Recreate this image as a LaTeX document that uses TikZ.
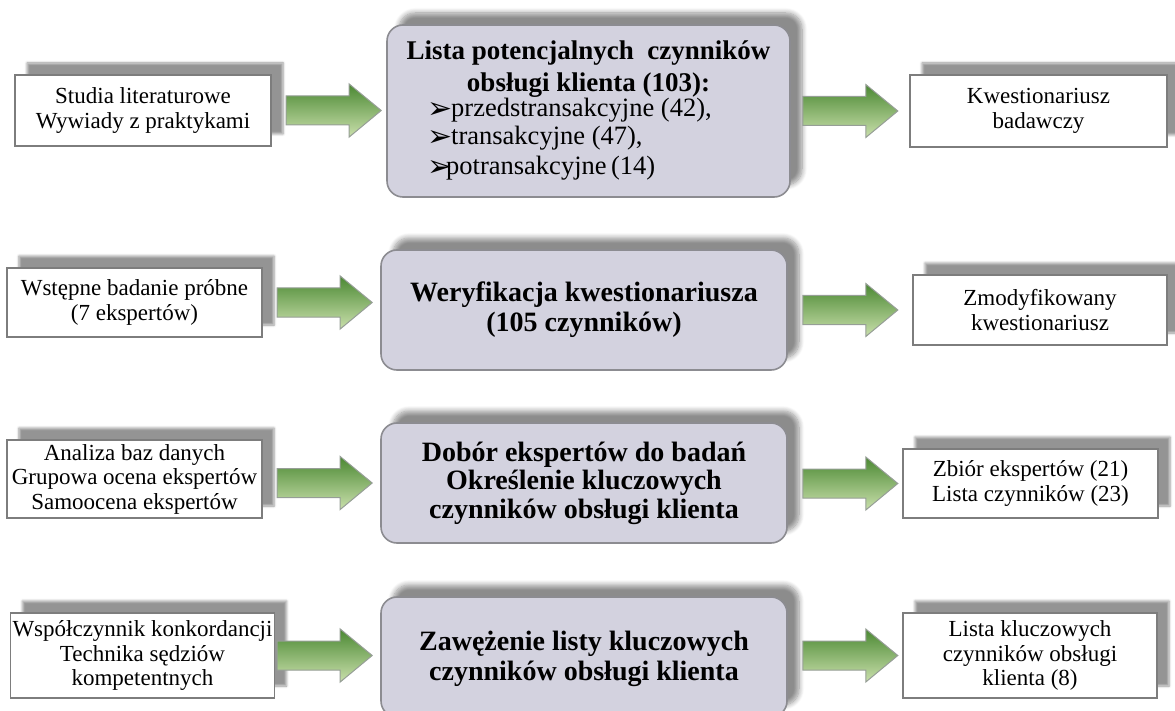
\documentclass[tikz,border=0pt]{standalone}
\usepackage{fontspec}
\setmainfont{Liberation Serif}
\newfontfamily\dingfont{DejaVu Sans}
\usetikzlibrary{calc,shadows.blur}

\definecolor{panelfill}{RGB}{211,210,223}
\definecolor{paneledge}{RGB}{140,140,145}
\definecolor{sideedge}{RGB}{125,125,125}
\definecolor{arrowtop}{RGB}{74,136,50}
\definecolor{arrowbottom}{RGB}{202,224,172}
\definecolor{arrowedge}{RGB}{150,158,150}

\tikzset{
  sidebox/.style={draw=sideedge, line width=1.3pt, fill=white, align=center, inner sep=2pt,
    font=\fontsize{23}{24.5}\selectfont,
    blur shadow={shadow xshift=12pt, shadow yshift=12pt, shadow blur radius=2.5pt,
                 shadow blur steps=5, shadow opacity=42}},
  panel/.style={draw=paneledge, line width=1.6pt, fill=panelfill, rounded corners=16pt,
    align=center, inner sep=2pt, font=\fontsize{28}{30}\selectfont\bfseries,
    blur shadow={shadow xshift=12pt, shadow yshift=12pt, shadow blur radius=5pt,
                 shadow blur steps=8, shadow opacity=45}},
  titleline/.style={anchor=base, inner sep=0pt, font=\fontsize{27}{30}\selectfont\bfseries},
  itemline/.style={anchor=base west, inner sep=0pt, font=\fontsize{26.5}{28}\selectfont},
  flowarrow/.style={draw=arrowedge, line width=1pt, top color=arrowtop, bottom color=arrowbottom},
}

% block arrow from tail point #1 to tip point #2 (same height)
\newcommand\blockarrow[2]{%
  \path[flowarrow] let \p1=#1, \p2=#2 in
    ({\x1},{\y1+14.5pt}) -- ({\x2-32pt},{\y1+14.5pt}) -- ({\x2-32pt},{\y1+26.5pt})
    -- ({\x2},{\y1}) -- ({\x2-32pt},{\y1-26.5pt}) -- ({\x2-32pt},{\y1-14.5pt})
    -- ({\x1},{\y1-14.5pt}) -- cycle;}

% list bullet: a solid arrowhead in a box of width #1
\newcommand\itembullet[1]{\makebox[#1][l]{\smash{\raisebox{-1.5pt}{\dingfont\fontsize{30}{30}\selectfont ➢}}}}

\begin{document}
\begin{tikzpicture}[x=1pt, y=-1pt]
  \useasboundingbox (0,0) rectangle (1175,711);
  \clip (0,0) rectangle (1175,711);

  % ---- row 1 ----
  \node[sidebox, minimum width=256pt, minimum height=71pt] (L1) at (143,110.5)
    {Studia literaturowe\\Wywiady z praktykami};
  \node[panel, minimum width=403pt, minimum height=172pt] (C1) at (588.5,111) {};
  \node[titleline] (C1a) at (588.5,60) {Lista potencjalnych\ \ czynników};
  \node[titleline] (C1b) at (588.5,92) {obsługi klienta (103):};
  \node[itemline] (C1c) at (427,117) {\itembullet{24pt}przedstransakcyjne (42),};
  \node[itemline] (C1d) at (427,145) {\itembullet{24pt}transakcyjne (47),};
  \node[itemline] (C1e) at (427,175) {\itembullet{19pt}potransakcyjne\,(14)};
  \node[sidebox, minimum width=257pt, minimum height=72pt] (R1) at (1038.5,111)
    {Kwestionariusz\\badawczy};

  % ---- row 2 ----
  \node[sidebox, minimum width=255pt, minimum height=69pt] (L2) at (134.5,302.5)
    {Wstępne badanie próbne\\(7 ekspertów)};
  \node[panel, minimum width=406pt, minimum height=120pt] (C2) at (584,310)
    {Weryfikacja kwestionariusza\\(105 czynników)};
  \node[sidebox, minimum width=254pt, minimum height=70pt] (R2) at (1040,310)
    {Zmodyfikowany\\kwestionariusz};

  % ---- row 3 ----
  \node[sidebox, minimum width=255pt, minimum height=78pt] (L3) at (134.5,479)
    {Analiza baz danych\\Grupowa ocena ekspertów\\Samoocena ekspertów};
  \node[panel, minimum width=406pt, minimum height=120pt, font=\fontsize{28}{28.5}\selectfont\bfseries]
    (C3) at (584,483)
    {Dobór ekspertów do badań\\Określenie kluczowych\\czynników obsługi klienta};
  \node[sidebox, minimum width=255pt, minimum height=69pt] (R3) at (1030.5,483.5)
    {Zbiór ekspertów (21)\\Lista czynników (23)};

  % ---- row 4 ----
  \node[sidebox, minimum width=255pt, minimum height=85pt] (L4) at (142.5,655.5)
    {Współczynnik konkordancji\\Technika sędziów\\kompetentnych};
  \node[panel, minimum width=406pt, minimum height=120pt] (C4) at (584,657) {};
  \node[titleline, font=\fontsize{28}{30}\selectfont\bfseries] (C4a) at (584,650)
    {Zawężenie listy kluczowych};
  \node[titleline, font=\fontsize{28}{30}\selectfont\bfseries] (C4b) at (584,680)
    {czynników obsługi klienta};
  \node[sidebox, minimum width=254pt, minimum height=85pt] (R4) at (1030,655.5)
    {Lista kluczowych\\czynników obsługi\\klienta (8)};

  % ---- arrows into the panels ----
  \blockarrow{($(L1.east -| C1.west)+(-100,0)$)}{($(L1.east -| C1.west)+(-5,0)$)}
  \blockarrow{($(L2.east -| C2.west)+(-103,0)$)}{($(L2.east -| C2.west)+(-8,0)$)}
  \blockarrow{($(C3.west)+(-103,0)$)}{($(C3.west)+(-8,0)$)}
  \blockarrow{($(L4.east -| C4.west)+(-103,0)$)}{($(L4.east -| C4.west)+(-8,0)$)}

  % ---- arrows out of the panels ----
  \blockarrow{($(R1.west -| C1.east)+(12,0)$)}{($(R1.west -| C1.east)+(107,0)$)}
  \blockarrow{($(R2.west -| C2.east)+(15,0)$)}{($(R2.west -| C2.east)+(110,0)$)}
  \blockarrow{($(R3.west -| C3.east)+(15,0)$)}{($(R3.west -| C3.east)+(110,0)$)}
  \blockarrow{($(R4.west -| C4.east)+(15,0)$)}{($(R4.west -| C4.east)+(110,0)$)}
\end{tikzpicture}
\end{document}
